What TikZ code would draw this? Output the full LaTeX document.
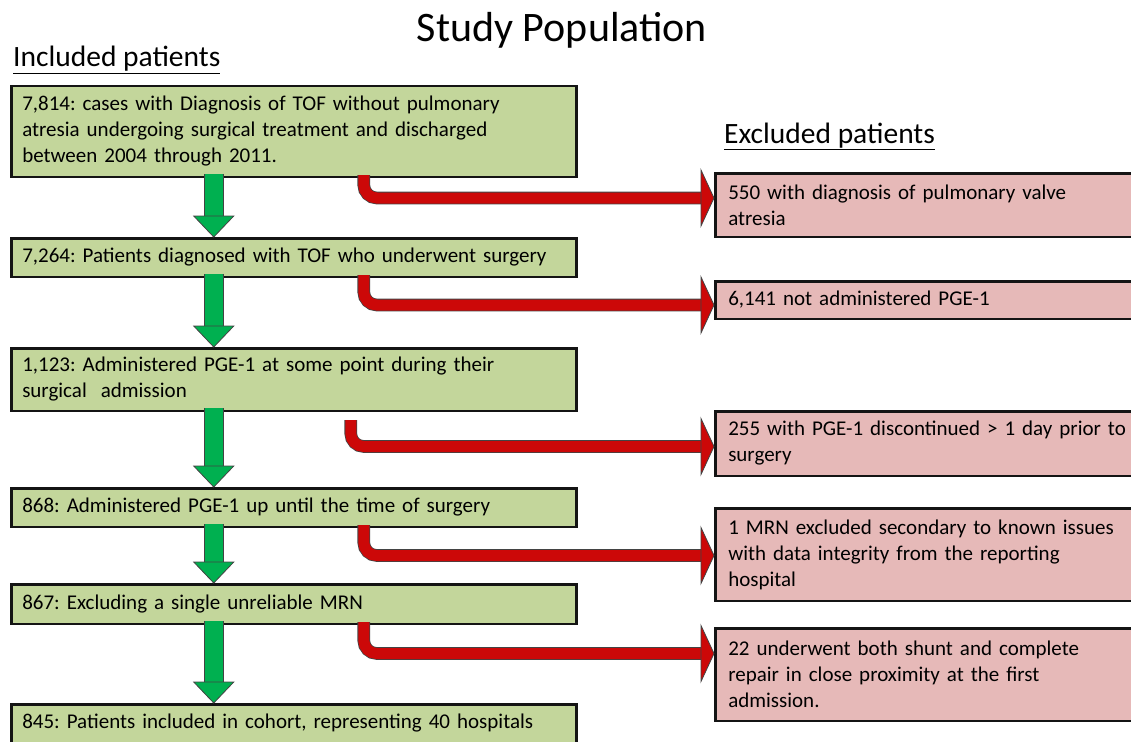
\documentclass[tikz,border=0pt]{standalone}
\usepackage{fontspec}
\setmainfont{Carlito}
\usetikzlibrary{positioning,calc}
\frenchspacing
\definecolor{incfill}{RGB}{195,214,155}
\definecolor{excfill}{RGB}{230,185,184}
\definecolor{gogreen}{RGB}{0,176,80}
\definecolor{cutred}{RGB}{204,8,8}
\definecolor{ink}{RGB}{20,20,20}
\tikzset{
  incbox/.style={draw=ink,line width=2.5pt,fill=incfill,anchor=north west,text width=543pt,
    inner xsep=11pt,inner ysep=0pt,align=left,font=\fontsize{21}{26}\selectfont},
  excbox/.style={draw=ink,line width=2.5pt,fill=excfill,anchor=north west,text width=440pt,
    inner xsep=13pt,inner ysep=0pt,align=left,font=\fontsize{21}{26}\selectfont},
  head/.style={inner sep=0pt,font=\fontsize{29.5}{34}\selectfont},
  downshaft/.style={draw=ink!80,line width=0.8pt,double=gogreen,double distance=18pt,shorten >=20pt},
  downhead/.style={draw=ink!80,line width=0.8pt,fill=gogreen,line join=miter},
  cutshaft/.style={draw=ink!80,line width=0.8pt,double=cutred,double distance=11pt,
    rounded corners=13pt,shorten >=12pt},
  cuthead/.style={draw=ink!80,line width=0.8pt,fill=cutred,line join=miter},
}

\begin{document}
\begin{tikzpicture}[x=1pt,y=-1pt]
  \useasboundingbox (0,0) rectangle (1131,741);
  \node[font=\fontsize{42}{48}\selectfont] (title) at (562,30) {Study Population};
  \node[head,anchor=base west] (inchead) at (13,67) {\underline{Included patients}};
  \node[head,anchor=base west] (exchead) at (724,143) {\underline{Excluded patients}};

  % included patients
  \node[incbox,minimum height=90.5pt] (inc1) at (10,85)
    {7,814: cases with Diagnosis of TOF without pulmonary\\
     atresia undergoing surgical treatment and discharged\\
     between 2004 through 2011.};
  \node[incbox,minimum height=38.5pt,below=59pt of inc1] (inc2)
    {7,264: Patients diagnosed with TOF who underwent surgery};
  \node[incbox,minimum height=62.5pt,below=69pt of inc2] (inc3)
    {1,123: Administered PGE-1 at some point during their\\
     surgical\ \ admission};
  \node[incbox,minimum height=38.5pt,below=75pt of inc3] (inc4)
    {868: Administered PGE-1 up until the time of surgery};
  \node[incbox,minimum height=39.5pt,below=55pt of inc4] (inc5)
    {867: Excluding a single unreliable MRN};
  \node[incbox,minimum height=38.5pt,below=78pt of inc5] (inc6)
    {845: Patients included in cohort, representing 40 hospitals};

  % excluded patients
  \node[excbox,minimum height=63.5pt] (exc1) at (714,172)
    {550 with diagnosis of pulmonary valve\\atresia};
  \node[excbox,minimum height=37.5pt,below=42pt of exc1] (exc2)
    {6,141 not administered PGE-1};
  \node[excbox,minimum height=64.5pt,below=90pt of exc2] (exc3)
    {255 with PGE-1 discontinued > 1 day prior to\\surgery};
  \node[excbox,minimum height=92.5pt,below=30pt of exc3] (exc4)
    {1 MRN excluded secondary to known issues\\
     with data integrity from the reporting\\hospital};
  \node[excbox,minimum height=92.5pt,below=25pt of exc4] (exc5)
    {22 underwent both shunt and complete\\
     repair in close proximity at the first\\admission.};

  % arrows
  \foreach \a/\b in {inc1/inc2,inc2/inc3,inc3/inc4,inc4/inc5,inc5/inc6}{
    \draw[downshaft] ([xshift=-80pt,yshift=4pt]\a.south) -- ([xshift=-80pt]\b.north);
    \draw[downhead] ([xshift=-80pt]\b.north) -- ++(-20,-21) -- ++(40,0) -- cycle;
  }
  \foreach \a/\b/\dx/\sy/\ey in {inc1/exc1/70/3/7,inc2/exc2/70/3/-5,inc3/exc3/57/-8/-3,
      inc4/exc4/70/3/-1,inc5/exc5/70/3/21}{
    \draw[cutshaft] ([xshift=\dx pt,yshift=\sy pt]\a.south) |- ([yshift=\ey pt]\b.west);
    \draw[cuthead] ([yshift=\ey pt]\b.west) -- ++(-13,-28) -- ++(0,56) -- cycle;
  }
\end{tikzpicture}
\end{document}
